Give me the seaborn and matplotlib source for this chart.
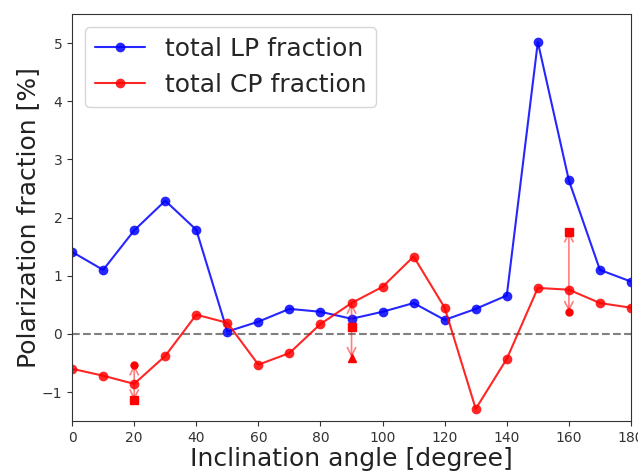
import matplotlib
matplotlib.use("Agg")
import matplotlib.pyplot as plt
import seaborn as sns
import numpy as np

angles = [0, 10, 20, 30, 40, 50, 60, 70, 80, 90, 100, 110, 120, 130, 140, 150, 160, 170, 180]
lp_frac = [1.41, 1.10, 1.78, 2.29, 1.79, 0.04, 0.21, 0.43, 0.38, 0.26, 0.38, 0.53, 0.24, 0.43, 0.66, 5.02, 2.64, 1.10, 0.90]
cp_frac = [-0.60, -0.72, -0.86, -0.38, 0.33, 0.19, -0.53, -0.33, 0.17, 0.53, 0.81, 1.33, 0.45, -1.29, -0.43, 0.79, 0.76, 0.53, 0.45]

# extra CP estimates
circ_x = [20, 160]
circ_y = [-0.53, 0.38]
sq_x = [20, 90, 160]
sq_y = [-1.14, 0.12, 1.76]
tri_x = [90]
tri_y = [-0.41]

# arrows: (x, start, end)
arrow_x = [20, 20, 90, 90, 160, 160]
arrow_start = [-0.86, -0.86, 0.12, 0.12, 0.76, 0.76]
arrow_end = [-0.53, -1.14, 0.53, -0.41, 1.76, 0.38]

sns.set_style("ticks")
fig = plt.figure(figsize=(6.38, 4.71), dpi=100)
ax = fig.add_axes([0.113, 0.106, 0.876, 0.864])

ax.axhline(0, color="gray", ls="--", lw=1.5, zorder=1)

sns.lineplot(x=angles, y=lp_frac, ax=ax, color="blue", marker="o", markersize=7,
             markeredgewidth=0, label="total LP fraction", alpha=0.85)
sns.lineplot(x=angles, y=cp_frac, ax=ax, color="red", marker="o", markersize=7,
             markeredgewidth=0, label="total CP fraction", alpha=0.85)

for xa, s, e in zip(arrow_x, arrow_start, arrow_end):
    ax.annotate("", xy=(xa, e), xytext=(xa, s),
                arrowprops=dict(arrowstyle="->", color="red", alpha=0.5, lw=1.2,
                                mutation_scale=15, shrinkA=0, shrinkB=0))

ax.plot(circ_x, circ_y, "o", color="red", markersize=5)
ax.plot(sq_x, sq_y, "s", color="red", markersize=6)
ax.plot(tri_x, tri_y, "^", color="red", markersize=6)

ax.set_xlim(0, 180)
ax.set_ylim(-1.5, 5.5)
ax.set_xticks(np.arange(0, 181, 20))
ax.set_yticks([-1, 0, 1, 2, 3, 4, 5])
ax.tick_params(labelsize=10, colors="#333333")
for sp in ax.spines.values():
    sp.set_visible(True)
    sp.set_color("#333333")
ax.set_xlabel("Inclination angle [degree]", fontsize=18, color="#222222", labelpad=1.5)
ax.set_ylabel("Polarization fraction [%]", fontsize=18, color="#222222", labelpad=1.5)
ax.legend(loc="upper left", fontsize=18, framealpha=0.8)

fig.savefig("out.png", dpi=100)
